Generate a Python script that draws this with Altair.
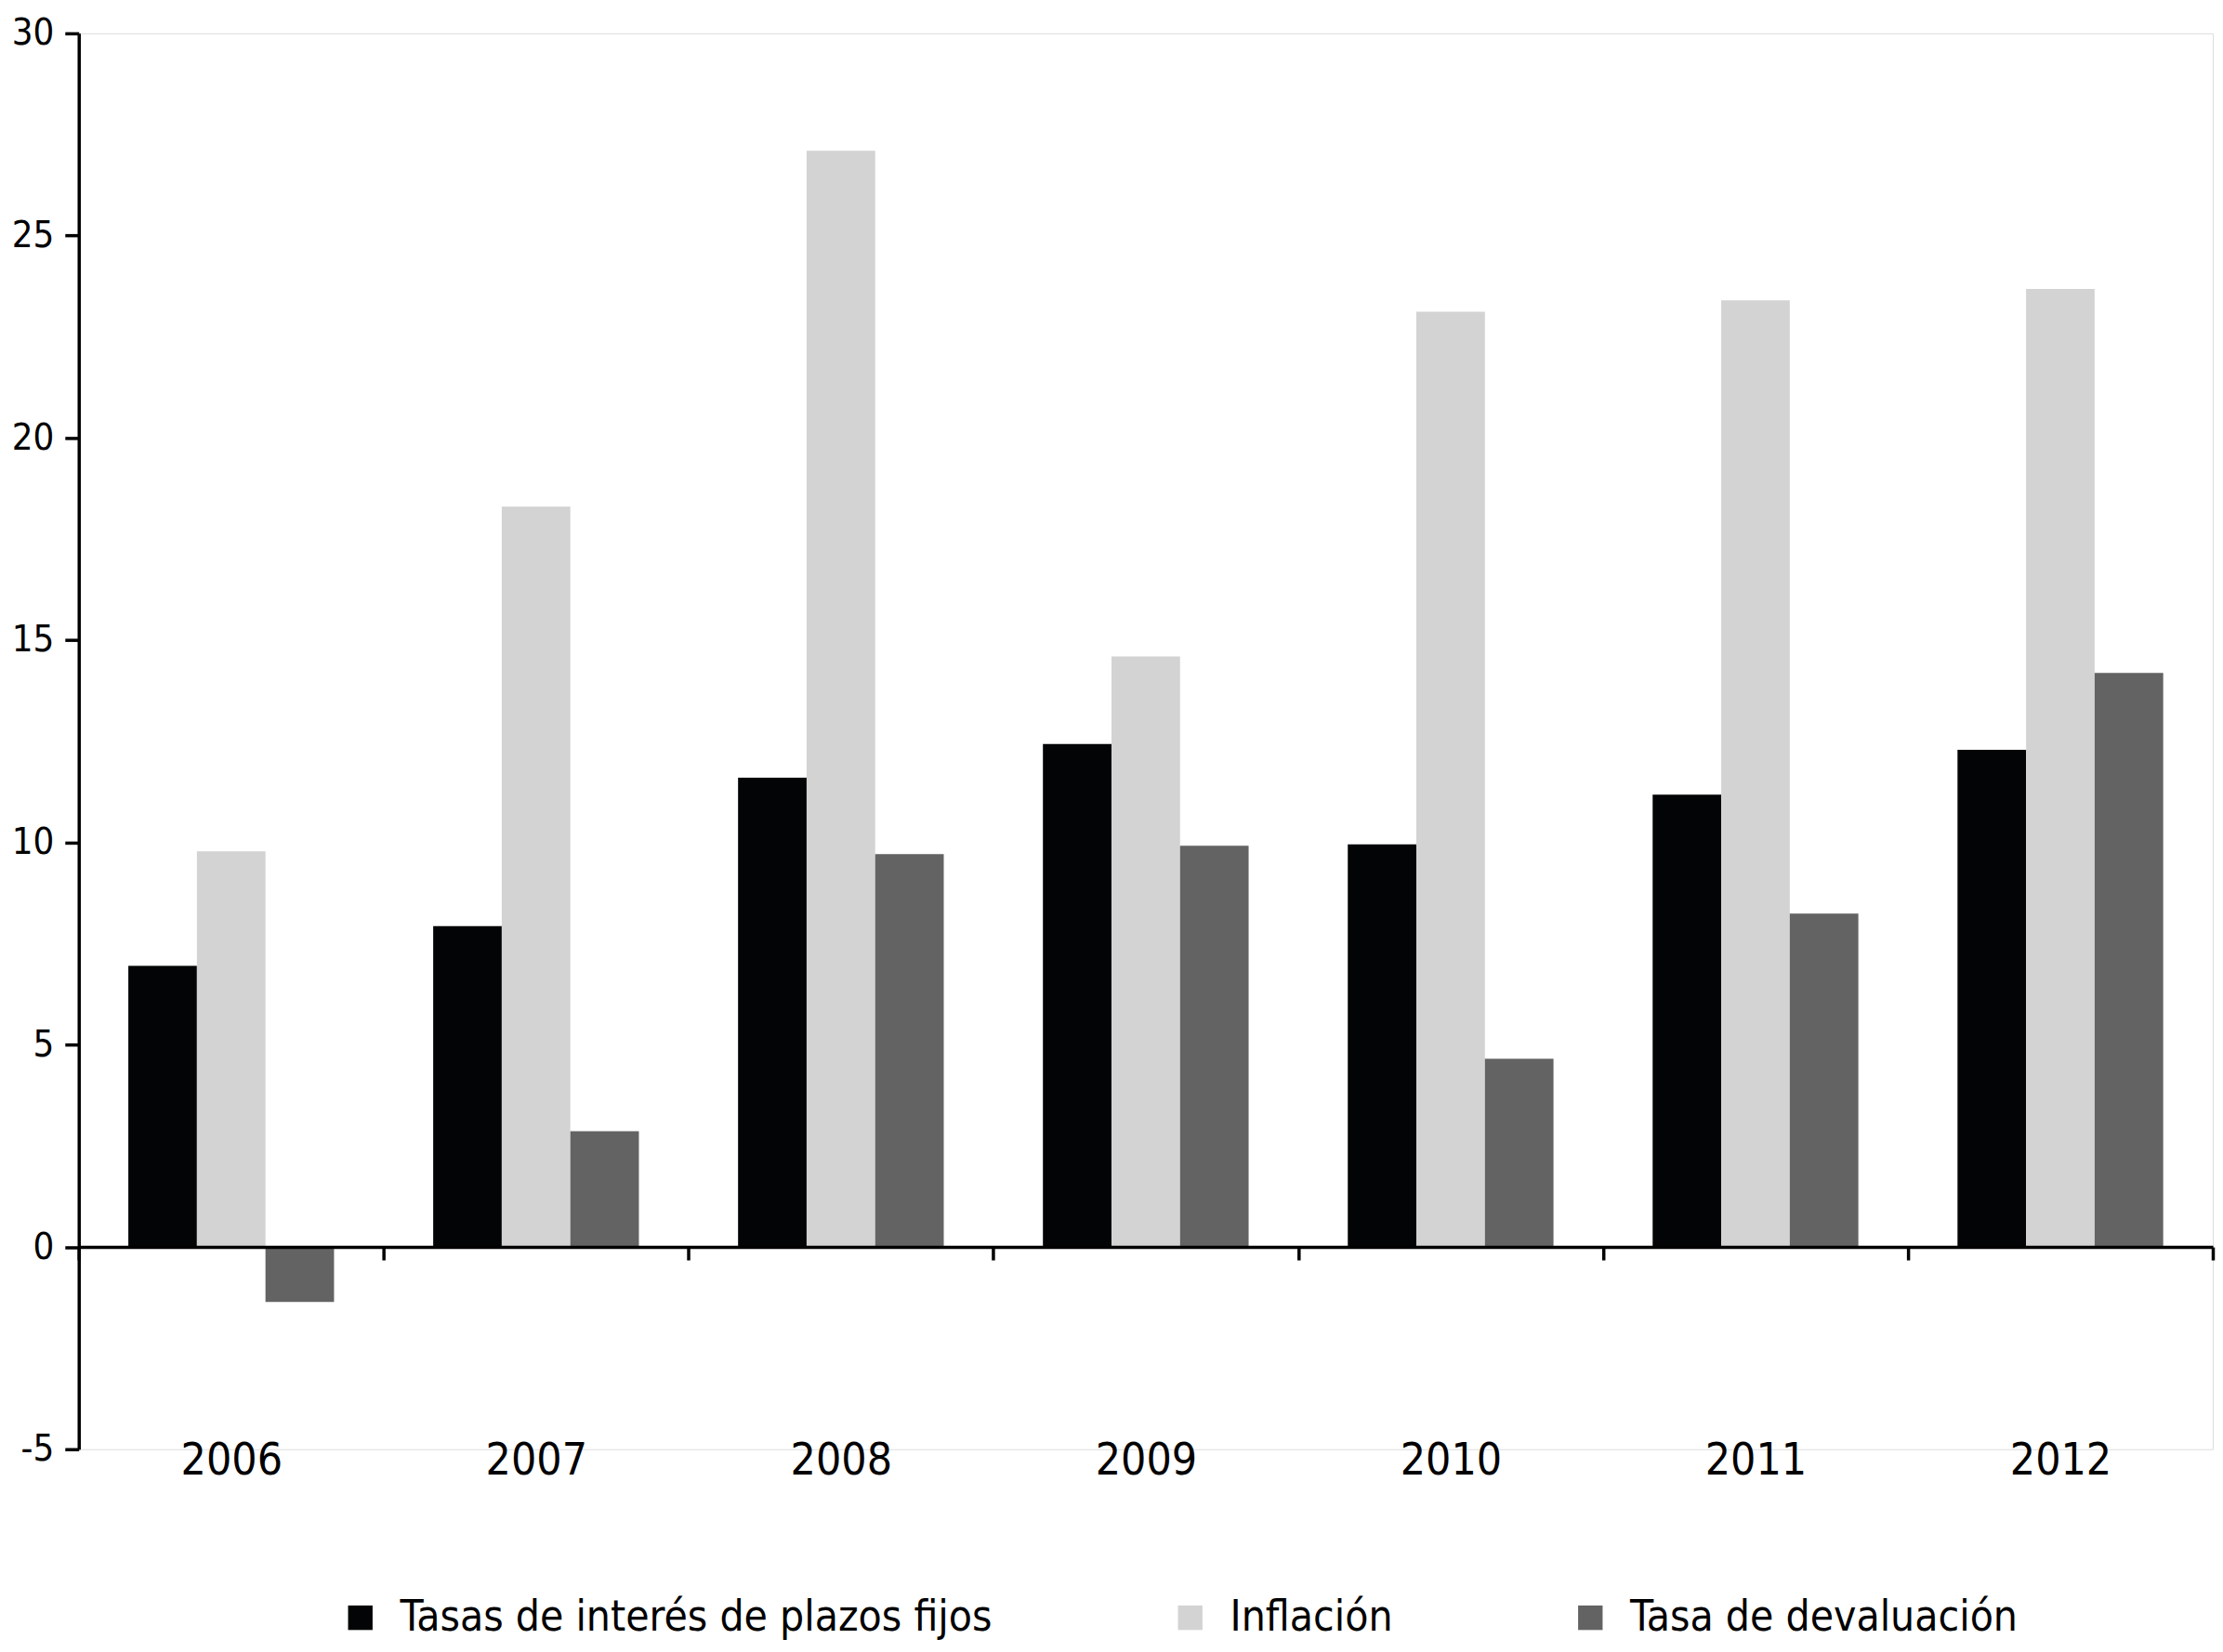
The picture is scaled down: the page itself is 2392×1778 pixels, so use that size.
import altair as alt
import pandas as pd

years = ["2006", "2007", "2008", "2009", "2010", "2011", "2012"]
series = ["Tasas de interés de plazos fijos", "Inflación", "Tasa de devaluación"]
tasas_interes = [6.95, 7.93, 11.60, 12.43, 9.95, 11.18, 12.29]
inflacion = [9.78, 18.30, 27.10, 14.60, 23.12, 23.40, 23.68]
devaluacion = [-1.36, 2.86, 9.71, 9.92, 4.65, 8.24, 14.19]
colors = ["#030405", "#d3d3d3", "#636363"]
y_ticks = [-5, 0, 5, 10, 15, 20, 25, 30]

rows = []
for name, vals in zip(series, [tasas_interes, inflacion, devaluacion]):
    for yr, v in zip(years, vals):
        rows.append({"year": yr, "serie": name, "valor": v})
df = pd.DataFrame(rows)

FONT = "DejaVu Sans Condensed"
W, H = 2304, 1529

chart = alt.Chart(df).mark_bar(strokeWidth=0).encode(
    x=alt.X("year:N", sort=years, title=None,
            scale=alt.Scale(paddingInner=0, paddingOuter=0),
            axis=alt.Axis(labelAngle=0, labelFont=FONT, labelFontSize=48,
                          labelColor="black", domainColor="black",
                          domainWidth=3.5, tickColor="black", tickWidth=3.5,
                          tickSize=14, tickBand="extent", offset=-218.4,
                          labelPadding=193, zindex=1)),
    xOffset=alt.XOffset("serie:N", sort=series,
                        scale=alt.Scale(paddingInner=0, paddingOuter=0.723)),
    y=alt.Y("valor:Q", title=None,
            scale=alt.Scale(domain=[-5, 30], nice=False, zero=False),
            axis=alt.Axis(values=y_ticks, labelExpr="'' + datum.value",
                          labelFont=FONT, labelFontSize=40, labelColor="black",
                          domainColor="black", domainWidth=3.5,
                          tickColor="black", tickWidth=3.5, tickSize=15,
                          labelPadding=12, grid=False)),
    color=alt.Color("serie:N", sort=series,
                    scale=alt.Scale(domain=series, range=colors),
                    legend=alt.Legend(title=None, orient="none",
                                      direction="horizontal",
                                      legendX=281, legendY=1688,
                                      symbolType="square", symbolSize=700,
                                      symbolStrokeWidth=0, labelFont=FONT,
                                      labelFontSize=46, labelColor="black",
                                      labelOffset=20, columnPadding=190,
                                      padding=0, labelLimit=1000)),
).properties(
    width=W, height=H,
    autosize=alt.AutoSizeParams(type="none"),
    padding={"left": 77, "top": 25, "right": 3, "bottom": 210},
).configure_view(stroke=None).configure(background="white")

chart.save("out.html", embed_options={"renderer": "svg", "actions": False})
